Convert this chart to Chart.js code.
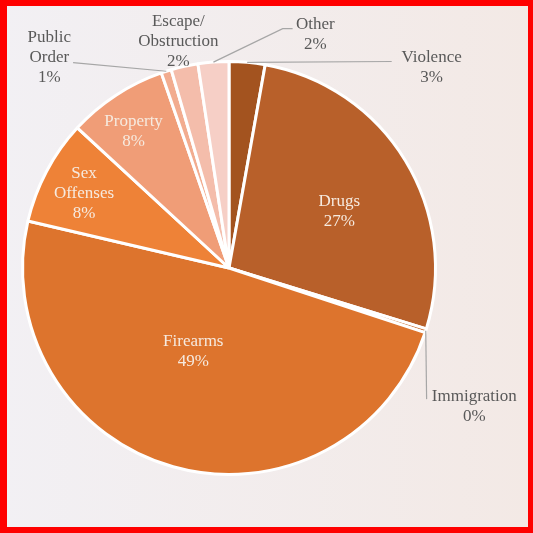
<!DOCTYPE html>
<html>
<head>
<meta charset="utf-8">
<script src="https://cdn.jsdelivr.net/npm/chart.js@4/dist/chart.umd.min.js"></script>
<style>
  html, body { margin: 0; padding: 0; }
  #wrap {
    position: relative; width: 533px; height: 533px;
    background: linear-gradient(to right, #F2F0F4, #F3E9E5);
  }
  #frame {
    position: absolute; left: 0; top: 0; width: 533px; height: 533px;
    box-sizing: border-box; border-style: solid; border-color: #FF0000;
    border-width: 6px 5px 6px 7px; pointer-events: none;
  }
  canvas { position: absolute; left: 0; top: 0; }
</style>
</head>
<body>
<div id="wrap">
  <canvas id="c" width="533" height="533"></canvas>
  <div id="frame"></div>
</div>
<script>
// ---- data ----
const categories = ["Violence", "Drugs", "Immigration", "Firearms", "Sex Offenses", "Property", "Public Order", "Escape/Obstruction", "Other"];
const labelLines = [["Violence"], ["Drugs"], ["Immigration"], ["Firearms"], ["Sex", "Offenses"], ["Property"], ["Public", "Order"], ["Escape/", "Obstruction"], ["Other"]];
const shares = [2.8, 26.9, 0.3, 48.5, 8.2, 7.8, 0.8, 2.1, 2.4];
const colors = ["#A3531F", "#B8602A", "#C96B2C", "#DD742D", "#EE8237", "#F09D77", "#F2AC8F", "#F4BDAB", "#F6CFC6"];

// ---- label layout (offsets from pie centre, in radius units) ----
const labelLayout = [
  { pos: [0.981, -0.969], inside: false, leader: [[0.788, -1.0]] },
  { pos: [0.534, -0.274], inside: true },
  { pos: [1.188, 0.673], inside: false, leader: [[0.957, 0.635]] },
  { pos: [-0.173, 0.404], inside: true },
  { pos: [-0.702, -0.361], inside: true },
  { pos: [-0.462, -0.659], inside: true },
  { pos: [-0.870, -1.019], inside: false, leader: [[-0.755, -0.995]] },
  { pos: [-0.245, -1.099], inside: false },
  { pos: [0.418, -1.130], inside: false, leader: [[0.260, -1.159], [0.308, -1.159]] }
];

const total = shares.reduce((a, b) => a + b, 0);

const labelPlugin = {
  id: 'pieLabels',
  afterDatasetsDraw(chart) {
    const ctx = chart.ctx;
    const meta = chart.getDatasetMeta(0);
    ctx.save();
    const fs = 17, lh = 20;
    ctx.font = fs + 'px "Liberation Serif", "Times New Roman", serif';
    ctx.textAlign = 'center';
    ctx.textBaseline = 'middle';
    meta.data.forEach((arc, i) => {
      const p = arc.getProps(['x', 'y', 'startAngle', 'endAngle', 'outerRadius'], true);
      const R = p.outerRadius, cx = p.x, cy = p.y;
      const L = labelLayout[i];
      if (L.leader) {
        const mid = (p.startAngle + p.endAngle) / 2;
        ctx.strokeStyle = '#A6A6A6';
        ctx.lineWidth = 1.2;
        ctx.beginPath();
        ctx.moveTo(cx + Math.cos(mid) * R, cy + Math.sin(mid) * R);
        L.leader.forEach(q => ctx.lineTo(cx + q[0] * R, cy + q[1] * R));
        ctx.stroke();
      }
      const pct = Math.round(shares[i] / total * 100) + '%';
      const lines = labelLines[i].concat([pct]);
      const bx = cx + L.pos[0] * R, by = cy + L.pos[1] * R;
      ctx.fillStyle = L.inside ? '#F6EADF' : '#595959';
      const y0 = by - (lines.length - 1) * lh / 2;
      lines.forEach((t, k) => ctx.fillText(t, bx, y0 + k * lh));
    });
    ctx.restore();
  }
};

new Chart(document.getElementById('c'), {
  type: 'pie',
  data: {
    labels: categories,
    datasets: [{
      data: shares,
      backgroundColor: colors,
      borderColor: '#FFFFFF',
      borderWidth: 3
    }]
  },
  options: {
    responsive: false,
    animation: false,
    layout: { padding: { left: 21, right: 96, top: 60, bottom: 57 } },
    plugins: { legend: { display: false }, tooltip: { enabled: false } }
  },
  plugins: [labelPlugin]
});
</script>
</body>
</html>
